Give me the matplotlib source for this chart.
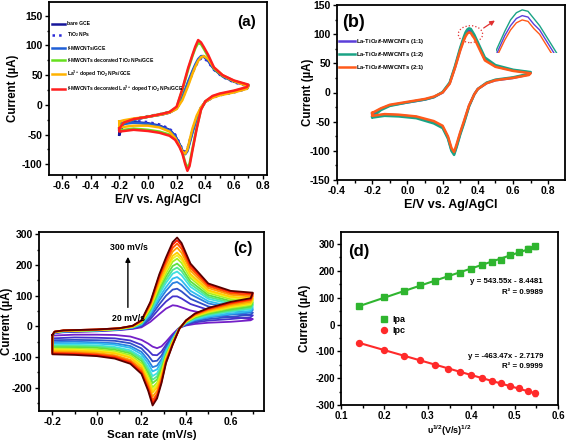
import numpy as np
import matplotlib
matplotlib.use('Agg')
import matplotlib.pyplot as plt
from matplotlib.patches import Ellipse
from matplotlib.lines import Line2D
from matplotlib.ticker import MultipleLocator, FormatStrFormatter

plt.rcParams['font.family'] = 'Liberation Sans'
plt.rcParams['font.weight'] = 'bold'
plt.rcParams['axes.labelweight'] = 'bold'
plt.rcParams['axes.unicode_minus'] = False
plt.rcParams['mathtext.fontset'] = 'custom'
plt.rcParams['mathtext.rm'] = 'Liberation Sans:bold'
plt.rcParams['mathtext.it'] = 'Liberation Sans:italic:bold'
plt.rcParams['mathtext.bf'] = 'Liberation Sans:bold'
plt.rcParams['mathtext.default'] = 'rm'

# --- (a) CVs of the modified electrodes ---
a_fwd_E = [-0.2, -0.17, -0.1, 0.0, 0.1, 0.15, 0.2, 0.24, 0.28, 0.31, 0.33, 0.35, 0.37, 0.39, 0.42, 0.46, 0.52, 0.6, 0.7]
a_rev_E = [0.69, 0.6, 0.5, 0.45, 0.4, 0.37, 0.34, 0.31, 0.29, 0.275, 0.26, 0.24, 0.22, 0.19, 0.15, 0.08, 0.0, -0.1, -0.2]
a_labels = ['bare GCE', 'TiO$_2$ NPs', '$f$-MWCNTs/GCE', '$f$-MWCNTs decorated TiO$_2$ NPs/GCE',
            'La$^{3+}$ doped TiO$_2$ NPs/GCE', '$f$-MWCNTs decorated La$^{3+}$ doped TiO$_2$ NPs/GCE']
a_fwd = [
    [-50, -32, -25, -20, -16, -13, -6, 12, 37, 55, 66, 75, 80, 81, 74, 60, 48, 39, 32],
    [-45, -30, -24, -19, -15, -12, -6, 10, 35, 53, 64, 73, 78, 79, 72, 59, 47, 38, 31],
    [-42, -31, -25, -20, -16, -13, -6, 13, 39, 57, 68, 77, 82, 82, 75, 61, 49, 40, 33],
    [-38, -30, -24, -20, -15, -12, -4, 25, 59, 82, 95, 104, 102, 94, 81, 61, 49, 40, 33],
    [-28, -26, -23, -20, -16, -13, -7, 8, 32, 52, 64, 74, 80, 82, 77, 63, 50, 40, 31],
    [-40, -30, -24, -20, -15, -12, -3, 27, 62, 84, 98, 109, 105, 97, 84, 63, 50, 41, 34],
]
a_rev = [
    [28, 22, 17, 13, 5, -5, -22, -45, -63, -76, -81, -77, -66, -52, -42, -35, -31, -29, -32],
    [27, 21, 16, 12, 5, -5, -21, -43, -61, -74, -79, -75, -64, -50, -40, -33, -29, -27, -29],
    [28, 22, 17, 13, 5, -5, -23, -47, -65, -78, -83, -78, -67, -53, -43, -36, -32, -30, -33],
    [29, 23, 18, 14, 6, -8, -38, -74, -99, -106, -97, -80, -69, -57, -50, -45, -42, -40, -43],
    [27, 21, 16, 12, 5, -4, -18, -40, -60, -75, -82, -79, -69, -56, -45, -38, -35, -35, -38],
    [30, 24, 19, 15, 6, -8, -40, -77, -103, -111, -100, -82, -71, -59, -52, -47, -44, -42, -45],
]
a_colors = ['#16169a', '#2a2ad8', '#1f5fd6', '#66e01e', '#ffb300', '#ff1f1f']
a_styles = ['-', ':', '-', '-', '-', '-']

# --- (b) CVs of the composite ratios ---
b_fwd_E = [-0.2, -0.15, -0.1, 0.0, 0.1, 0.15, 0.2, 0.24, 0.27, 0.3, 0.32, 0.33, 0.34, 0.35, 0.36, 0.37, 0.38, 0.4, 0.44, 0.5, 0.6, 0.7]
b_rev_E = [0.69, 0.6, 0.5, 0.45, 0.4, 0.38, 0.35, 0.32, 0.3, 0.28, 0.265, 0.25, 0.23, 0.2, 0.15, 0.05, -0.05, -0.13, -0.2]
b_labels = ['La-TiO$_2$/$f$-MWCNTs (1:1)', 'La-TiO$_2$/$f$-MWCNTs (1:2)', 'La-TiO$_2$/$f$-MWCNTs (2:1)']
b_fwd = [
    [-37, -28, -22, -17, -12, -8, 0, 16, 43, 74, 92, 99, 104, 106, 105, 100, 96, 83, 57, 45, 38, 34],
    [-42, -30, -23, -17, -12, -8, 1, 17, 45, 77, 95, 103, 108, 110, 109, 104, 99, 86, 60, 47, 39, 35],
    [-35, -27, -21, -16, -11, -7, 0, 15, 42, 72, 89, 96, 101, 103, 102, 97, 93, 80, 55, 44, 37, 33],
]
b_rev = [
    [31, 25, 21, 16, 6, -3, -23, -52, -70, -91, -105, -98, -77, -59, -51, -42, -39, -38, -41],
    [32, 26, 22, 17, 6, -3, -24, -54, -72, -93, -107, -100, -79, -61, -53, -44, -41, -40, -43],
    [30, 25, 21, 16, 6, -3, -22, -50, -68, -88, -102, -95, -75, -57, -49, -41, -38, -37, -40],
]
b_colors = ['#5b3fd9', '#1aa385', '#ff5a1a']

# --- (c) CVs at scan rates 20-300 mV/s ---
scan_rates = [20, 40, 60, 80, 100, 120, 140, 160, 180, 200, 220, 240, 260, 280, 300]
c_fwd_E = [-0.2, -0.19, -0.15, -0.1, 0.0, 0.1, 0.16, 0.2, 0.24, 0.28, 0.31, 0.34, 0.36, 0.38, 0.42, 0.5, 0.6, 0.7]
c_rev_E = [0.69, 0.6, 0.5, 0.44, 0.4, 0.37, 0.34, 0.31, 0.29, 0.27, 0.25, 0.23, 0.2, 0.15, 0.08, 0.0, -0.1, -0.2]
c_fwd = [
    [-30, -22, -19, -18, -16, -12, -8, -3, 15, 40, 58, 69, 67, 62, 52, 40, 30, 24],
    [-30, -21, -18, -17, -15, -11, -7, 0, 24, 58, 81, 98, 98, 91, 73, 54, 42, 36],
    [-29, -21, -17, -16, -14, -10, -5, 3, 31, 72, 100, 120, 123, 114, 90, 65, 51, 45],
    [-29, -20, -17, -16, -14, -10, -4, 5, 38, 85, 116, 141, 145, 135, 105, 75, 60, 54],
    [-29, -20, -16, -15, -13, -9, -4, 7, 42, 95, 128, 156, 161, 150, 116, 82, 66, 60],
    [-29, -20, -16, -15, -13, -9, -3, 9, 48, 105, 142, 172, 179, 167, 129, 90, 73, 67],
    [-29, -19, -16, -15, -13, -9, -2, 10, 51, 113, 152, 184, 192, 180, 138, 96, 78, 72],
    [-29, -19, -15, -14, -12, -8, -2, 11, 55, 121, 162, 197, 205, 192, 147, 102, 83, 77],
    [-29, -19, -15, -14, -12, -8, -1, 13, 60, 130, 173, 211, 221, 207, 158, 109, 89, 83],
    [-29, -18, -15, -14, -12, -8, -1, 14, 63, 136, 182, 221, 232, 217, 165, 114, 94, 88],
    [-28, -18, -14, -13, -11, -7, 0, 15, 66, 141, 188, 230, 241, 226, 171, 118, 97, 91],
    [-28, -18, -14, -13, -11, -7, 0, 17, 70, 150, 200, 244, 257, 240, 182, 125, 103, 97],
    [-28, -17, -13, -12, -10, -6, 1, 18, 74, 158, 210, 256, 270, 253, 191, 131, 108, 102],
    [-28, -17, -13, -12, -10, -6, 2, 19, 77, 165, 218, 267, 281, 264, 199, 136, 113, 107],
    [-28, -17, -13, -12, -10, -6, 2, 20, 80, 170, 225, 275, 290, 272, 205, 140, 116, 110],
]
c_rev = [
    [20, 15, 12, 8, 3, -4, -25, -50, -65, -71, -66, -56, -44, -33, -28, -27, -27, -30],
    [30, 24, 19, 13, 5, -5, -30, -60, -82, -94, -93, -78, -60, -46, -39, -37, -36, -39],
    [38, 31, 24, 17, 7, -5, -34, -68, -95, -112, -114, -95, -72, -55, -47, -45, -44, -45],
    [45, 38, 29, 20, 9, -5, -37, -75, -107, -128, -133, -110, -83, -64, -55, -52, -50, -51],
    [50, 42, 32, 22, 10, -6, -40, -79, -115, -140, -147, -121, -91, -70, -60, -56, -55, -56],
    [56, 48, 36, 25, 12, -6, -43, -85, -125, -153, -162, -133, -100, -78, -67, -62, -60, -61],
    [60, 51, 39, 27, 13, -6, -45, -89, -132, -163, -174, -142, -106, -83, -71, -66, -64, -64],
    [65, 55, 42, 29, 14, -7, -47, -93, -139, -173, -185, -152, -113, -88, -76, -70, -68, -68],
    [70, 60, 45, 32, 15, -7, -49, -98, -148, -184, -199, -162, -121, -94, -81, -75, -73, -72],
    [73, 63, 48, 33, 16, -7, -51, -102, -154, -192, -208, -170, -126, -99, -85, -79, -76, -75],
    [76, 66, 49, 35, 16, -7, -52, -105, -159, -199, -216, -176, -131, -102, -88, -82, -79, -78],
    [81, 70, 53, 37, 18, -7, -55, -110, -167, -210, -229, -187, -138, -109, -94, -87, -83, -82],
    [86, 74, 56, 39, 19, -8, -57, -114, -174, -220, -241, -196, -145, -114, -98, -91, -87, -86],
    [89, 77, 58, 41, 19, -8, -59, -117, -180, -228, -250, -204, -151, -118, -102, -94, -90, -89],
    [92, 80, 60, 42, 20, -8, -60, -120, -185, -235, -258, -210, -155, -122, -105, -97, -93, -91],
]
c_colors = ['#7420c8', '#4433cc', '#3050c8', '#2a80e0', '#30bdf0', '#40e0e0', '#50e890', '#60e040',
            '#a8f020', '#f0f020', '#ffd000', '#ffa000', '#ff5a00', '#ff1a00', '#5a0000']

# --- (d) peak currents vs square root of scan rate ---
sqrt_v = [0.141, 0.2, 0.245, 0.283, 0.316, 0.346, 0.374, 0.4, 0.424, 0.447, 0.469, 0.49, 0.51, 0.53, 0.548]
ipa = [69, 101, 126, 147, 163, 180, 194, 207, 222, 234, 242, 258, 271, 283, 292]
ipa_err = [3, 3, 3, 4, 4, 4, 5, 5, 5, 6, 6, 7, 8, 8, 9]
ipc = [-70, -96, -116, -134, -150, -164, -177, -188, -198, -209, -219, -229, -238, -247, -256]
ipc_err = [3, 3, 4, 4, 4, 5, 5, 5, 6, 6, 6, 7, 7, 8, 9]
fit_a = (543.55, -8.4481)
fit_c = (-463.47, -2.7179)

W, H = 567, 443
fig = plt.figure(figsize=(W / 100, H / 100), dpi=100)


def add_ax(l, t, r, b):
    return fig.add_axes([l / W, (H - b) / H, (r - l) / W, (b - t) / H])


def style(ax, xmaj, ymaj, xfmt='%.1f', size=7.5):
    ax.xaxis.set_major_locator(MultipleLocator(xmaj))
    ax.xaxis.set_minor_locator(MultipleLocator(xmaj / 2))
    ax.yaxis.set_major_locator(MultipleLocator(ymaj))
    ax.yaxis.set_minor_locator(MultipleLocator(ymaj / 2))
    ax.xaxis.set_major_formatter(FormatStrFormatter(xfmt))
    ax.tick_params(which='both', direction='out', top=False, right=False, labelsize=size, width=1, pad=1.5)
    ax.tick_params(which='major', length=3)
    ax.tick_params(which='minor', length=1.8)
    for lab in ax.get_xticklabels() + ax.get_yticklabels():
        lab.set_fontweight('bold')
    for s in ax.spines.values():
        s.set_linewidth(1.3)


def loop(E1, y1, E2, y2):
    x = list(E1) + list(E2) + [E1[0]]
    y = list(y1) + list(y2) + [y1[0]]
    return x, y


# (a)
ax = add_ax(49, 2, 267, 175)
for f, r, c, ls, lab in zip(a_fwd, a_rev, a_colors, a_styles, a_labels):
    x, y = loop(a_fwd_E, f, a_rev_E, r)
    ax.plot(x, y, color=c, ls=ls, lw=1.8, label=lab)
ax.set_xlim(-0.69, 0.83)
ax.set_ylim(-118, 173)
style(ax, 0.2, 50)
ax.set_xlabel('E/V vs. Ag/AgCl', fontsize=8.3, labelpad=2)
ax.set_ylabel('Current (µA)', fontsize=8.3)
ax.yaxis.set_label_coords(-0.138, 0.5)
ax.text(0.908, 0.884, '(a)', transform=ax.transAxes, fontsize=11, ha='center', va='center')
ax.legend(loc='upper left', bbox_to_anchor=(0.005, 0.9), fontsize=3.6, frameon=False,
          handlelength=2.6, handletextpad=0.4, labelspacing=0.85, borderaxespad=0)

# (b)
ax = add_ax(337, 5, 565, 180)
for f, r, c, lab in zip(b_fwd, b_rev, b_colors, b_labels):
    x, y = loop(b_fwd_E, f, b_rev_E, r)
    ax.plot(x, y, color=c, lw=1.8, label=lab)
ax.set_xlim(-0.4, 0.895)
ax.set_ylim(-150, 150)
style(ax, 0.2, 50)
ax.set_xlabel('E/V vs. Ag/AgCl', fontsize=9, labelpad=2)
ax.set_ylabel('Current (µA)', fontsize=8.3)
ax.yaxis.set_label_coords(-0.10, 0.5)
ax.text(0.022, 0.9, '(b)', transform=ax.transAxes, fontsize=13, ha='left', va='center')
ax.legend(loc='upper left', bbox_to_anchor=(0.0, 0.83), fontsize=4.2, frameon=False,
          handlelength=2.6, handletextpad=0.2, labelspacing=0.7, borderaxespad=0)
ax.add_patch(Ellipse((0.358, 100), 0.138, 29, fill=False, ec='#e03030', ls=':', lw=0.9))
ax.annotate('', xy=(0.51, 126), xytext=(0.42, 108),
            arrowprops=dict(arrowstyle='-|>', color='#e03030', lw=0.9, mutation_scale=7))
ins = add_ax(496, 7, 560, 53)
for f, c in zip(b_fwd, b_colors):
    ins.plot(b_fwd_E, f, color=c, lw=1.0)
ins.set_xlim(0.305, 0.415)
ins.set_ylim(80, 112)
ins.axis('off')

# (c)
ax = add_ax(39, 232, 264, 411)
for f, r, c in zip(c_fwd, c_rev, c_colors):
    x, y = loop(c_fwd_E, f, c_rev_E, r)
    ax.plot(x, y, color=c, lw=1.3)
ax.set_xlim(-0.26, 0.75)
ax.set_ylim(-276, 308)
style(ax, 0.2, 100)
ax.set_xlabel('Scan rate (mV/s)', fontsize=8.2, labelpad=2)
ax.set_ylabel('Current (µA)', fontsize=8.3)
ax.yaxis.set_label_coords(-0.116, 0.5)
ax.text(0.907, 0.91, '(c)', transform=ax.transAxes, fontsize=11.5, ha='center', va='center')
ax.annotate('', xy=(0.139, 236), xytext=(0.139, 53),
            arrowprops=dict(arrowstyle='-|>', color='black', lw=1.0, mutation_scale=7))
ax.text(0.145, 258, '300 mV/s', fontsize=6.3, ha='center', va='center')
ax.text(0.142, 26, '20 mV/s', fontsize=6.3, ha='center', va='center')

# (d)
ax = add_ax(341, 232, 558, 405)
xs = np.array([sqrt_v[0], sqrt_v[-1]])
ax.plot(xs, fit_a[0] * xs + fit_a[1], color='#2fb52f', lw=1.5)
ax.plot(xs, fit_c[0] * xs + fit_c[1], color='#ff2a2a', lw=1.5)
ax.errorbar(sqrt_v, ipa, yerr=ipa_err, fmt='s', color='#2fb52f', ms=4, capsize=1.5, elinewidth=0.8, label='Ipa')
ax.errorbar(sqrt_v, ipc, yerr=ipc_err, fmt='o', color='#ff2a2a', ms=4.3, capsize=1.5, elinewidth=0.8, label='Ipc')
ax.set_xlim(0.1, 0.6)
ax.set_ylim(-300, 345)
style(ax, 0.1, 100, size=7)
ax.set_xlabel('υ$^{1/2}$(V/s)$^{1/2}$', fontsize=6.5, labelpad=2)
ax.set_ylabel('Current (µA)', fontsize=8.3)
ax.yaxis.set_label_coords(-0.138, 0.5)
ax.text(0.083, 0.89, '(d)', transform=ax.transAxes, fontsize=12, ha='center', va='center')
ax.text(0.931, 0.711, 'y = 543.55x - 8.4481', transform=ax.transAxes, fontsize=5.7, ha='right', va='center')
ax.text(0.931, 0.653, 'R² = 0.9989', transform=ax.transAxes, fontsize=5.7, ha='right', va='center')
ax.text(0.931, 0.283, 'y = -463.47x - 2.7179', transform=ax.transAxes, fontsize=5.7, ha='right', va='center')
ax.text(0.931, 0.22, 'R² = 0.9999', transform=ax.transAxes, fontsize=5.7, ha='right', va='center')
handles = [Line2D([], [], marker='s', ls='', color='#2fb52f', ms=4),
           Line2D([], [], marker='o', ls='', color='#ff2a2a', ms=4.3)]
ax.legend(handles, ['Ipa', 'Ipc'], loc='upper left', bbox_to_anchor=(0.16, 0.54), fontsize=6.5,
          frameon=False, handlelength=1.0, handletextpad=0.4, labelspacing=0.2, borderaxespad=0)

fig.savefig('out.png', dpi=100)
